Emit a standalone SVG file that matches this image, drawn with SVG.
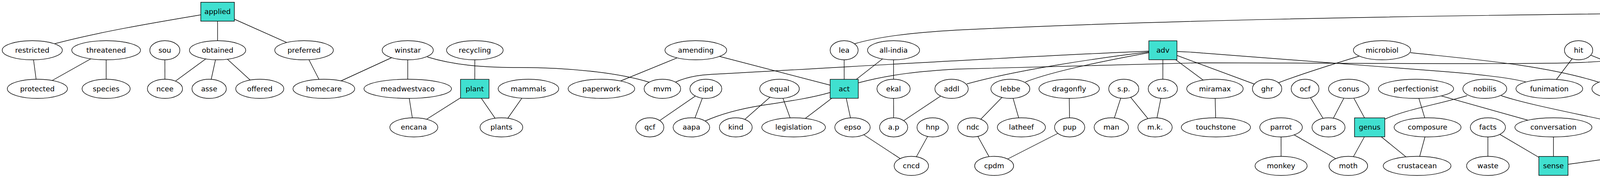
<svg xmlns="http://www.w3.org/2000/svg" width="7376" height="456" viewBox="0 0 7376 456">
<style>
.e line,.e path{stroke:#000;stroke-width:1.4;fill:none}
.n ellipse{fill:#fff;stroke:#000;stroke-width:1.4}
.n rect{fill:#40e0d0;stroke:#000;stroke-width:1.4}
text{font-family:"DejaVu Sans","Liberation Sans",sans-serif;font-size:18.3px;text-anchor:middle;fill:#000}
</style>
<rect x="0" y="0" width="7376" height="456" fill="#fff"/>
<g id="edges" class="e">
<line x1="557" y1="30" x2="557" y2="128.75"/>
<line x1="557" y1="30" x2="778.4" y2="128.75"/>
<line x1="82.6" y1="128.75" x2="95.7" y2="227.5"/>
<line x1="271.7" y1="128.75" x2="95.7" y2="227.5"/>
<line x1="271.7" y1="128.75" x2="271.7" y2="227.5"/>
<line x1="422" y1="128.75" x2="422.3" y2="227.5"/>
<line x1="557" y1="128.75" x2="422.3" y2="227.5"/>
<line x1="557" y1="128.75" x2="535.4" y2="227.5"/>
<line x1="557" y1="128.75" x2="665" y2="227.5"/>
<line x1="778.4" y1="128.75" x2="829" y2="227.5"/>
<line x1="1043.8" y1="128.75" x2="829" y2="227.5"/>
<line x1="1043.8" y1="128.75" x2="1043.8" y2="227.5"/>
<line x1="1215.6" y1="128.75" x2="1215.4" y2="227.5"/>
<line x1="1043.8" y1="227.5" x2="1059.4" y2="326.25"/>
<line x1="1215.4" y1="227.5" x2="1059.4" y2="326.25"/>
<line x1="1215.4" y1="227.5" x2="1283.6" y2="326.25"/>
<line x1="1352.8" y1="227.5" x2="1283.6" y2="326.25"/>
<line x1="1781.3" y1="128.75" x2="1539.6" y2="227.5"/>
<line x1="1781.3" y1="128.75" x2="2161.2" y2="227.5"/>
<line x1="1807" y1="227.5" x2="1663.5" y2="326.25"/>
<line x1="1807" y1="227.5" x2="1770" y2="326.25"/>
<line x1="2161" y1="128.75" x2="2161.2" y2="227.5"/>
<line x1="2287.5" y1="128.75" x2="2161.2" y2="227.5"/>
<line x1="2287.5" y1="128.75" x2="2287.5" y2="227.5"/>
<line x1="1995.6" y1="227.5" x2="1883.6" y2="326.25"/>
<line x1="1995.6" y1="227.5" x2="2031.6" y2="326.25"/>
<line x1="2161.2" y1="227.5" x2="2031.6" y2="326.25"/>
<line x1="2161.2" y1="227.5" x2="2182.4" y2="326.25"/>
<line x1="2287.5" y1="227.5" x2="2287.7" y2="326.25"/>
<line x1="2436" y1="227.5" x2="2287.7" y2="326.25"/>
<line x1="2182.4" y1="326.25" x2="2333" y2="425"/>
<line x1="2387.5" y1="326.25" x2="2333" y2="425"/>
<line x1="2977" y1="128.75" x2="2976.8" y2="227.5"/>
<line x1="2977" y1="128.75" x2="3243.8" y2="227.5"/>
<line x1="2977" y1="128.75" x2="3110.2" y2="227.5"/>
<line x1="2586.5" y1="227.5" x2="2490.5" y2="326.25"/>
<line x1="2586.5" y1="227.5" x2="2614.8" y2="326.25"/>
<line x1="2737" y1="227.5" x2="2738.3" y2="326.25"/>
<line x1="2876.8" y1="227.5" x2="2845" y2="326.25"/>
<line x1="2876.8" y1="227.5" x2="2956.9" y2="326.25"/>
<line x1="2976.8" y1="227.5" x2="2956.9" y2="326.25"/>
<line x1="2490.5" y1="326.25" x2="2545" y2="425"/>
<line x1="2738.3" y1="326.25" x2="2545" y2="425"/>
<line x1="3110.2" y1="227.5" x2="3112.7" y2="326.25"/>
<line x1="3341" y1="227.5" x2="3401" y2="326.25"/>
<line x1="3452.9" y1="227.5" x2="3401" y2="326.25"/>
<line x1="3452.9" y1="227.5" x2="3506.3" y2="326.25"/>
<line x1="3625" y1="227.5" x2="3654.6" y2="326.25"/>
<line x1="3625" y1="227.5" x2="3976.8" y2="326.25"/>
<line x1="3279.5" y1="326.25" x2="3279.6" y2="425"/>
<line x1="3279.5" y1="326.25" x2="3451.7" y2="425"/>
<line x1="3506.3" y1="326.25" x2="3451.7" y2="425"/>
<line x1="3506.3" y1="326.25" x2="3627.8" y2="425"/>
<line x1="3654.6" y1="326.25" x2="3627.8" y2="425"/>
<line x1="4041.2" y1="128.75" x2="3966.3" y2="227.5"/>
<line x1="4041.2" y1="128.75" x2="4286.4" y2="227.5"/>
<line x1="4286.4" y1="227.5" x2="4174.2" y2="326.25"/>
<line x1="3809" y1="326.25" x2="3809" y2="425"/>
<line x1="3809" y1="326.25" x2="3976.8" y2="425"/>
<line x1="3976.8" y1="326.25" x2="3976.8" y2="425"/>
<line x1="4590.5" y1="30" x2="4590.2" y2="128.75"/>
<line x1="4590.5" y1="30" x2="4703.7" y2="128.75"/>
<line x1="4703.7" y1="30" x2="4703.7" y2="128.75"/>
<line x1="4703.7" y1="30" x2="4815.7" y2="128.75"/>
<line x1="4815.5" y1="30" x2="4815.7" y2="128.75"/>
<line x1="4911.6" y1="30" x2="4815.7" y2="128.75"/>
<line x1="5027.8" y1="30" x2="4815.7" y2="128.75"/>
<line x1="4929.5" y1="128.75" x2="4716.7" y2="227.5"/>
<line x1="4815.7" y1="128.75" x2="4815.7" y2="227.5"/>
<line x1="4425" y1="227.5" x2="4358" y2="326.25"/>
<line x1="4425" y1="227.5" x2="4551.7" y2="326.25"/>
<line x1="4582.3" y1="227.5" x2="4716.9" y2="326.25"/>
<line x1="4815.7" y1="227.5" x2="4716.9" y2="326.25"/>
<line x1="4815.7" y1="227.5" x2="4834.3" y2="326.25"/>
<line x1="4551.7" y1="326.25" x2="4551.7" y2="425"/>
<line x1="5027.8" y1="30" x2="5044.8" y2="128.75"/>
<line x1="5358.2" y1="30" x2="5586.4" y2="128.75"/>
<line x1="5262.2" y1="128.75" x2="5262.1" y2="227.5"/>
<line x1="5478.9" y1="128.75" x2="5586.4" y2="227.5"/>
<line x1="4947.7" y1="227.5" x2="4946.3" y2="326.25"/>
<line x1="4947.7" y1="227.5" x2="5066" y2="326.25"/>
<line x1="4947.7" y1="227.5" x2="5199.9" y2="326.25"/>
<line x1="5118.5" y1="227.5" x2="5323.8" y2="326.25"/>
<line x1="5367.5" y1="227.5" x2="5199.9" y2="326.25"/>
<line x1="5476.7" y1="227.5" x2="5323.8" y2="326.25"/>
<line x1="5476.7" y1="227.5" x2="5477" y2="326.25"/>
<line x1="4946.3" y1="326.25" x2="4946.8" y2="425"/>
<line x1="5066" y1="326.25" x2="5066.2" y2="425"/>
<line x1="5573.2" y1="30" x2="5686.4" y2="128.75"/>
<line x1="5586.4" y1="128.75" x2="5586.4" y2="227.5"/>
<line x1="5686.4" y1="128.75" x2="5690.4" y2="227.5"/>
<line x1="5796.9" y1="227.5" x2="5762.5" y2="326.25"/>
<line x1="6055.6" y1="227.5" x2="5762.5" y2="326.25"/>
<line x1="6055.6" y1="227.5" x2="5910.3" y2="326.25"/>
<line x1="6055.6" y1="227.5" x2="6185" y2="326.25"/>
<line x1="5906.6" y1="227.5" x2="6061.1" y2="326.25"/>
<line x1="5762.5" y1="326.25" x2="5651.7" y2="425"/>
<line x1="5762.5" y1="326.25" x2="5763.5" y2="425"/>
<line x1="5910.3" y1="326.25" x2="5910.3" y2="425"/>
<line x1="6061.1" y1="326.25" x2="6157" y2="425"/>
<line x1="6235.8" y1="227.5" x2="6185" y2="326.25"/>
<line x1="6391.9" y1="227.5" x2="6551.6" y2="326.25"/>
<line x1="6391.9" y1="227.5" x2="6378.3" y2="326.25"/>
<line x1="6551.5" y1="227.5" x2="6551.6" y2="326.25"/>
<line x1="6690.3" y1="227.5" x2="6551.6" y2="326.25"/>
<line x1="6690.3" y1="227.5" x2="6662.3" y2="326.25"/>
<line x1="6690.3" y1="227.5" x2="6770.2" y2="326.25"/>
<line x1="6378.3" y1="326.25" x2="6378.5" y2="425"/>
<line x1="7137" y1="128.75" x2="7113.3" y2="227.5"/>
<line x1="7137" y1="128.75" x2="7213.1" y2="227.5"/>
<line x1="7299.6" y1="128.75" x2="7213.1" y2="227.5"/>
<line x1="7299.6" y1="128.75" x2="7323.8" y2="227.5"/>
<line x1="6919.8" y1="227.5" x2="6883.7" y2="326.25"/>
<line x1="6919.8" y1="227.5" x2="7022.4" y2="326.25"/>
<line x1="7113.3" y1="227.5" x2="7149" y2="326.25"/>
<path d="M514,38 C420,54 260,80 140,112"/>
<path d="M1094,146 C1160,166 1230,173 1330,173 C1450,173 1580,185 1663,211"/>
<path d="M1730,210 C1765,194 1800,191 1850,189 C2200,170 2600,145 2941,131"/>
<path d="M2188,112 C2250,94 2330,84 2450,77 C2900,55 3500,40 4553,31"/>
<path d="M2198,212 C2280,190 2360,182 2450,177 L3065,161 C3400,161 3900,166 4050,160 C4150,155 4210,146 4260,140"/>
<path d="M2941,133 C2800,150 2600,180 2475,215"/>
<path d="M2941,135 C2860,150 2700,180 2625,210"/>
<path d="M3013,132 Q3050,133 3080,136 L3680,182 Q3850,195 3906,210"/>
<path d="M3479,144 C3420,162 3330,190 3273,212"/>
<path d="M3611,135 C3750,150 3950,165 4094,211"/>
<path d="M3546,305 C3600,280 3680,268 3756,245"/>
<path d="M3843,245 C3900,265 4030,290 4120,310"/>
<path d="M4014,421 C4150,402 4350,375 4490,344"/>
<path d="M4426,142 C4500,160 4620,180 4689,211"/>
<path d="M4630,146 C4700,168 4780,180 4905,184 C4980,188 5030,198 5063,211"/>
<path d="M5118,146 C5080,165 5040,176 4970,183 C4920,188 4870,196 4845,211"/>
<path d="M4968,146 C5040,170 5180,185 5229,211"/>
<path d="M5537,31 C5420,50 5250,80 5174,115"/>
<path d="M5318,40 C5230,62 5130,85 5075,113"/>
<path d="M4997,245 C5080,270 5200,290 5288,313"/>
<path d="M5397,245 C5440,262 5480,275 5525,285 L5726,322"/>
<path d="M5360,315 C5420,298 5480,290 5560,288 C5700,285 5800,275 5874,246"/>
<path d="M6321,131 C6200,140 6000,160 5828,211"/>
<path d="M6293,245 C6350,262 6450,282 6510,305"/>
<path d="M6403,131 L6755,152 C6900,160 7050,175 7183,211"/>
<path d="M6845,344 C6800,360 6700,380 6600,385 C6450,390 6300,395 6193,417"/>
<path d="M1805,310 C1850,290 1900,278 1950,270 C2030,258 2080,250 2125,237"/>
</g>
<g id="n-applied" class="n"><rect x="514" y="5.75" width="86" height="48.5"/><text x="557" y="36">applied</text></g>
<g id="n-vec" class="n"><ellipse cx="4590.5" cy="30" rx="37.6" ry="24.5"/><text x="4590.5" y="36">vec</text></g>
<g id="n-mmm" class="n"><ellipse cx="4703.7" cy="30" rx="52" ry="24.5"/><text x="4703.7" y="36">mmm</text></g>
<g id="n-rcp" class="n"><ellipse cx="4815.5" cy="30" rx="35.8" ry="24.5"/><text x="4815.5" y="36">rcp</text></g>
<g id="n-slp" class="n"><ellipse cx="4911.6" cy="30" rx="36.2" ry="24.5"/><text x="4911.6" y="36">slp</text></g>
<g id="n-kpo" class="n"><ellipse cx="5027.8" cy="30" rx="38.5" ry="24.5"/><text x="5027.8" y="36">kpo</text></g>
<g id="n-bwp" class="n"><ellipse cx="5358.2" cy="30" rx="42" ry="24.5"/><text x="5358.2" y="36">bwp</text></g>
<g id="n-rfb" class="n"><ellipse cx="5573.2" cy="30" rx="36.2" ry="24.5"/><text x="5573.2" y="36">rfb</text></g>
<g id="n-restricted" class="n"><ellipse cx="82.6" cy="128.75" rx="77" ry="24.5"/><text x="82.6" y="134.75">restricted</text></g>
<g id="n-threatened" class="n"><ellipse cx="271.7" cy="128.75" rx="88" ry="24.5"/><text x="271.7" y="134.75">threatened</text></g>
<g id="n-sou" class="n"><ellipse cx="422" cy="128.75" rx="38.5" ry="24.5"/><text x="422" y="134.75">sou</text></g>
<g id="n-obtained" class="n"><ellipse cx="557" cy="128.75" rx="72" ry="24.5"/><text x="557" y="134.75">obtained</text></g>
<g id="n-preferred" class="n"><ellipse cx="778.4" cy="128.75" rx="75" ry="24.5"/><text x="778.4" y="134.75">preferred</text></g>
<g id="n-winstar" class="n"><ellipse cx="1043.8" cy="128.75" rx="65.4" ry="24.5"/><text x="1043.8" y="134.75">winstar</text></g>
<g id="n-recycling" class="n"><ellipse cx="1215.6" cy="128.75" rx="72.4" ry="24.5"/><text x="1215.6" y="134.75">recycling</text></g>
<g id="n-amending" class="n"><ellipse cx="1781.3" cy="128.75" rx="79" ry="24.5"/><text x="1781.3" y="134.75">amending</text></g>
<g id="n-lea" class="n"><ellipse cx="2161" cy="128.75" rx="35.8" ry="24.5"/><text x="2161" y="134.75">lea</text></g>
<g id="n-all-india" class="n"><ellipse cx="2287.5" cy="128.75" rx="66.6" ry="24.5"/><text x="2287.5" y="134.75">all-india</text></g>
<g id="n-adv" class="n"><rect x="2941" y="104.5" width="72" height="48.5"/><text x="2977" y="134.75">adv</text></g>
<g id="n-microbiol" class="n"><ellipse cx="3538" cy="128.75" rx="73.3" ry="24.5"/><text x="3538" y="134.75">microbiol</text></g>
<g id="n-hit" class="n"><ellipse cx="4041.2" cy="128.75" rx="36.2" ry="24.5"/><text x="4041.2" y="134.75">hit</text></g>
<g id="n-amendment" class="n"><ellipse cx="4345.4" cy="128.75" rx="93.2" ry="24.5"/><text x="4345.4" y="134.75">amendment</text></g>
<g id="n-string" class="n"><ellipse cx="4590.2" cy="128.75" rx="51.6" ry="24.5"/><text x="4590.2" y="134.75">string</text></g>
<g id="n-sjp" class="n"><ellipse cx="4703.7" cy="128.75" rx="35.8" ry="24.5"/><text x="4703.7" y="134.75">sjp</text></g>
<g id="n-ppr" class="n"><rect x="4779.7" y="104.5" width="72" height="48.5"/><text x="4815.7" y="134.75">ppr</text></g>
<g id="n-every" class="n"><ellipse cx="4929.5" cy="128.75" rx="51.8" ry="24.5"/><text x="4929.5" y="134.75">every</text></g>
<g id="n-uds" class="n"><ellipse cx="5044.8" cy="128.75" rx="38.5" ry="24.5"/><text x="5044.8" y="134.75">uds</text></g>
<g id="n-usr" class="n"><ellipse cx="5145.2" cy="128.75" rx="35.8" ry="24.5"/><text x="5145.2" y="134.75">usr</text></g>
<g id="n-orchid" class="n"><ellipse cx="5262.2" cy="128.75" rx="54.3" ry="24.5"/><text x="5262.2" y="134.75">orchid</text></g>
<g id="n-richy" class="n"><ellipse cx="5478.9" cy="128.75" rx="45.8" ry="24.5"/><text x="5478.9" y="134.75">richy</text></g>
<g id="n-bei" class="n"><ellipse cx="5586.4" cy="128.75" rx="36" ry="24.5"/><text x="5586.4" y="134.75">bei</text></g>
<g id="n-vie" class="n"><ellipse cx="5686.4" cy="128.75" rx="36" ry="24.5"/><text x="5686.4" y="134.75">vie</text></g>
<g id="n-ams" class="n"><ellipse cx="6362.3" cy="128.75" rx="41.1" ry="24.5"/><text x="6362.3" y="134.75">ams</text></g>
<g id="n-pbi" class="n"><ellipse cx="7137" cy="128.75" rx="36" ry="24.5"/><text x="7137" y="134.75">pbi</text></g>
<g id="n-triumf" class="n"><ellipse cx="7299.6" cy="128.75" rx="54.4" ry="24.5"/><text x="7299.6" y="134.75">triumf</text></g>
<g id="n-protected" class="n"><ellipse cx="95.7" cy="227.5" rx="77" ry="24.5"/><text x="95.7" y="233.5">protected</text></g>
<g id="n-species" class="n"><ellipse cx="271.7" cy="227.5" rx="61.5" ry="24.5"/><text x="271.7" y="233.5">species</text></g>
<g id="n-ncee" class="n"><ellipse cx="422.3" cy="227.5" rx="45" ry="24.5"/><text x="422.3" y="233.5">ncee</text></g>
<g id="n-asse" class="n"><ellipse cx="535.4" cy="227.5" rx="44" ry="24.5"/><text x="535.4" y="233.5">asse</text></g>
<g id="n-offered" class="n"><ellipse cx="665" cy="227.5" rx="61.5" ry="24.5"/><text x="665" y="233.5">offered</text></g>
<g id="n-homecare" class="n"><ellipse cx="829" cy="227.5" rx="79" ry="24.5"/><text x="829" y="233.5">homecare</text></g>
<g id="n-meadwestvaco" class="n"><ellipse cx="1043.8" cy="227.5" rx="112" ry="24.5"/><text x="1043.8" y="233.5">meadwestvaco</text></g>
<g id="n-plant" class="n"><rect x="1178.9" y="203.25" width="73" height="48.5"/><text x="1215.4" y="233.5">plant</text></g>
<g id="n-mammals" class="n"><ellipse cx="1352.8" cy="227.5" rx="77.5" ry="24.5"/><text x="1352.8" y="233.5">mammals</text></g>
<g id="n-paperwork" class="n"><ellipse cx="1539.6" cy="227.5" rx="85.2" ry="24.5"/><text x="1539.6" y="233.5">paperwork</text></g>
<g id="n-mvm" class="n"><ellipse cx="1695.7" cy="227.5" rx="46.8" ry="24.5"/><text x="1695.7" y="233.5">mvm</text></g>
<g id="n-cipd" class="n"><ellipse cx="1807" cy="227.5" rx="40.8" ry="24.5"/><text x="1807" y="233.5">cipd</text></g>
<g id="n-equal" class="n"><ellipse cx="1995.6" cy="227.5" rx="50.6" ry="24.5"/><text x="1995.6" y="233.5">equal</text></g>
<g id="n-act" class="n"><rect x="2125.2" y="203.25" width="72" height="48.5"/><text x="2161.2" y="233.5">act</text></g>
<g id="n-ekal" class="n"><ellipse cx="2287.5" cy="227.5" rx="42.5" ry="24.5"/><text x="2287.5" y="233.5">ekal</text></g>
<g id="n-addl" class="n"><ellipse cx="2436" cy="227.5" rx="42.7" ry="24.5"/><text x="2436" y="233.5">addl</text></g>
<g id="n-lebbe" class="n"><ellipse cx="2586.5" cy="227.5" rx="49.8" ry="24.5"/><text x="2586.5" y="233.5">lebbe</text></g>
<g id="n-dragonfly" class="n"><ellipse cx="2737" cy="227.5" rx="77.3" ry="24.5"/><text x="2737" y="233.5">dragonfly</text></g>
<g id="n-s-p" class="n"><ellipse cx="2876.8" cy="227.5" rx="38.5" ry="24.5"/><text x="2876.8" y="233.5">s.p.</text></g>
<g id="n-v-s" class="n"><ellipse cx="2976.8" cy="227.5" rx="37.4" ry="24.5"/><text x="2976.8" y="233.5">v.s.</text></g>
<g id="n-miramax" class="n"><ellipse cx="3110.2" cy="227.5" rx="72.3" ry="24.5"/><text x="3110.2" y="233.5">miramax</text></g>
<g id="n-ghr" class="n"><ellipse cx="3243.8" cy="227.5" rx="37.6" ry="24.5"/><text x="3243.8" y="233.5">ghr</text></g>
<g id="n-ocf" class="n"><ellipse cx="3341" cy="227.5" rx="35.6" ry="24.5"/><text x="3341" y="233.5">ocf</text></g>
<g id="n-conus" class="n"><ellipse cx="3452.9" cy="227.5" rx="51.8" ry="24.5"/><text x="3452.9" y="233.5">conus</text></g>
<g id="n-perfectionist" class="n"><ellipse cx="3625" cy="227.5" rx="96.2" ry="24.5"/><text x="3625" y="233.5">perfectionist</text></g>
<g id="n-nobilis" class="n"><ellipse cx="3801.1" cy="227.5" rx="56.1" ry="24.5"/><text x="3801.1" y="233.5">nobilis</text></g>
<g id="n-funimation" class="n"><ellipse cx="3966.3" cy="227.5" rx="85.4" ry="24.5"/><text x="3966.3" y="233.5">funimation</text></g>
<g id="n-environ" class="n"><ellipse cx="4140.6" cy="227.5" rx="65.2" ry="24.5"/><text x="4140.6" y="233.5">environ</text></g>
<g id="n-smash" class="n"><ellipse cx="4286.4" cy="227.5" rx="56.1" ry="24.5"/><text x="4286.4" y="233.5">smash</text></g>
<g id="n-theory" class="n"><ellipse cx="4425" cy="227.5" rx="58.7" ry="24.5"/><text x="4425" y="233.5">theory</text></g>
<g id="n-mixtapes" class="n"><ellipse cx="4582.3" cy="227.5" rx="74.5" ry="24.5"/><text x="4582.3" y="233.5">mixtapes</text></g>
<g id="n-bill" class="n"><ellipse cx="4716.7" cy="227.5" rx="35.8" ry="24.5"/><text x="4716.7" y="233.5">bill</text></g>
<g id="n-udb" class="n"><ellipse cx="4815.7" cy="227.5" rx="38.7" ry="24.5"/><text x="4815.7" y="233.5">udb</text></g>
<g id="n-systemd" class="n"><ellipse cx="4947.7" cy="227.5" rx="69.6" ry="24.5"/><text x="4947.7" y="233.5">systemd</text></g>
<g id="n-trombone" class="n"><ellipse cx="5118.5" cy="227.5" rx="77" ry="24.5"/><text x="5118.5" y="233.5">trombone</text></g>
<g id="n-tree" class="n"><ellipse cx="5262.1" cy="227.5" rx="42.5" ry="24.5"/><text x="5262.1" y="233.5">tree</text></g>
<g id="n-odp" class="n"><ellipse cx="5367.5" cy="227.5" rx="38.7" ry="24.5"/><text x="5367.5" y="233.5">odp</text></g>
<g id="n-yaml" class="n"><ellipse cx="5476.7" cy="227.5" rx="46.4" ry="24.5"/><text x="5476.7" y="233.5">yaml</text></g>
<g id="n-dop" class="n"><ellipse cx="5586.4" cy="227.5" rx="38.7" ry="24.5"/><text x="5586.4" y="233.5">dop</text></g>
<g id="n-sort" class="n"><ellipse cx="5690.4" cy="227.5" rx="41.5" ry="24.5"/><text x="5690.4" y="233.5">sort</text></g>
<g id="n-qms" class="n"><ellipse cx="5796.9" cy="227.5" rx="41.3" ry="24.5"/><text x="5796.9" y="233.5">qms</text></g>
<g id="n-bass" class="n"><ellipse cx="5906.6" cy="227.5" rx="44.3" ry="24.5"/><text x="5906.6" y="233.5">bass</text></g>
<g id="n-narcissism" class="n"><ellipse cx="6055.6" cy="227.5" rx="81.4" ry="24.5"/><text x="6055.6" y="233.5">narcissism</text></g>
<g id="n-disregard" class="n"><ellipse cx="6235.8" cy="227.5" rx="75.1" ry="24.5"/><text x="6235.8" y="233.5">disregard</text></g>
<g id="n-doings" class="n"><ellipse cx="6391.9" cy="227.5" rx="57.3" ry="24.5"/><text x="6391.9" y="233.5">doings</text></g>
<g id="n-garnishee" class="n"><ellipse cx="6551.5" cy="227.5" rx="78.5" ry="24.5"/><text x="6551.5" y="233.5">garnishee</text></g>
<g id="n-job" class="n"><ellipse cx="6690.3" cy="227.5" rx="36" ry="24.5"/><text x="6690.3" y="233.5">job</text></g>
<g id="n-energy" class="n"><ellipse cx="6919.8" cy="227.5" rx="61.5" ry="24.5"/><text x="6919.8" y="233.5">energy</text></g>
<g id="n-vtc" class="n"><ellipse cx="7113.3" cy="227.5" rx="36" ry="24.5"/><text x="7113.3" y="233.5">vtc</text></g>
<g id="n-epri" class="n"><ellipse cx="7213.1" cy="227.5" rx="40.1" ry="24.5"/><text x="7213.1" y="233.5">epri</text></g>
<g id="n-amrc" class="n"><ellipse cx="7323.8" cy="227.5" rx="46.8" ry="24.5"/><text x="7323.8" y="233.5">amrc</text></g>
<g id="n-encana" class="n"><ellipse cx="1059.4" cy="326.25" rx="61.3" ry="24.5"/><text x="1059.4" y="332.25">encana</text></g>
<g id="n-plants" class="n"><ellipse cx="1283.6" cy="326.25" rx="54.6" ry="24.5"/><text x="1283.6" y="332.25">plants</text></g>
<g id="n-qcf" class="n"><ellipse cx="1663.5" cy="326.25" rx="36" ry="24.5"/><text x="1663.5" y="332.25">qcf</text></g>
<g id="n-aapa" class="n"><ellipse cx="1770" cy="326.25" rx="46.8" ry="24.5"/><text x="1770" y="332.25">aapa</text></g>
<g id="n-kind" class="n"><ellipse cx="1883.6" cy="326.25" rx="42" ry="24.5"/><text x="1883.6" y="332.25">kind</text></g>
<g id="n-legislation" class="n"><ellipse cx="2031.6" cy="326.25" rx="81.4" ry="24.5"/><text x="2031.6" y="332.25">legislation</text></g>
<g id="n-epso" class="n"><ellipse cx="2182.4" cy="326.25" rx="45.3" ry="24.5"/><text x="2182.4" y="332.25">epso</text></g>
<g id="n-a-p" class="n"><ellipse cx="2287.7" cy="326.25" rx="36" ry="24.5"/><text x="2287.7" y="332.25">a.p</text></g>
<g id="n-hnp" class="n"><ellipse cx="2387.5" cy="326.25" rx="40" ry="24.5"/><text x="2387.5" y="332.25">hnp</text></g>
<g id="n-ndc" class="n"><ellipse cx="2490.5" cy="326.25" rx="38.7" ry="24.5"/><text x="2490.5" y="332.25">ndc</text></g>
<g id="n-latheef" class="n"><ellipse cx="2614.8" cy="326.25" rx="61.5" ry="24.5"/><text x="2614.8" y="332.25">latheef</text></g>
<g id="n-pup" class="n"><ellipse cx="2738.3" cy="326.25" rx="38.7" ry="24.5"/><text x="2738.3" y="332.25">pup</text></g>
<g id="n-man" class="n"><ellipse cx="2845" cy="326.25" rx="44" ry="24.5"/><text x="2845" y="332.25">man</text></g>
<g id="n-m-k" class="n"><ellipse cx="2956.9" cy="326.25" rx="43.9" ry="24.5"/><text x="2956.9" y="332.25">m.k.</text></g>
<g id="n-touchstone" class="n"><ellipse cx="3112.7" cy="326.25" rx="88.5" ry="24.5"/><text x="3112.7" y="332.25">touchstone</text></g>
<g id="n-parrot" class="n"><ellipse cx="3279.5" cy="326.25" rx="54.4" ry="24.5"/><text x="3279.5" y="332.25">parrot</text></g>
<g id="n-pars" class="n"><ellipse cx="3401" cy="326.25" rx="42.3" ry="24.5"/><text x="3401" y="332.25">pars</text></g>
<g id="n-genus" class="n"><rect x="3467.55" y="302" width="77.5" height="48.5"/><text x="3506.3" y="332.25">genus</text></g>
<g id="n-composure" class="n"><ellipse cx="3654.6" cy="326.25" rx="85.6" ry="24.5"/><text x="3654.6" y="332.25">composure</text></g>
<g id="n-facts" class="n"><ellipse cx="3809" cy="326.25" rx="45" ry="24.5"/><text x="3809" y="332.25">facts</text></g>
<g id="n-conversation" class="n"><ellipse cx="3976.8" cy="326.25" rx="98.6" ry="24.5"/><text x="3976.8" y="332.25">conversation</text></g>
<g id="n-riderman" class="n"><ellipse cx="4174.2" cy="326.25" rx="74.7" ry="24.5"/><text x="4174.2" y="332.25">riderman</text></g>
<g id="n-theoretical" class="n"><ellipse cx="4358" cy="326.25" rx="85.4" ry="24.5"/><text x="4358" y="332.25">theoretical</text></g>
<g id="n-perception" class="n"><ellipse cx="4551.7" cy="326.25" rx="83.8" ry="24.5"/><text x="4551.7" y="332.25">perception</text></g>
<g id="n-demos" class="n"><ellipse cx="4716.9" cy="326.25" rx="57.3" ry="24.5"/><text x="4716.9" y="332.25">demos</text></g>
<g id="n-sp" class="n"><ellipse cx="4834.3" cy="326.25" rx="36" ry="24.5"/><text x="4834.3" y="332.25">sp</text></g>
<g id="n-winrt" class="n"><ellipse cx="4946.3" cy="326.25" rx="50.8" ry="24.5"/><text x="4946.3" y="332.25">winrt</text></g>
<g id="n-dbas" class="n"><ellipse cx="5066" cy="326.25" rx="45.3" ry="24.5"/><text x="5066" y="332.25">dbas</text></g>
<g id="n-uis" class="n"><ellipse cx="5199.9" cy="326.25" rx="36" ry="24.5"/><text x="5199.9" y="332.25">uis</text></g>
<g id="n-sax" class="n"><rect x="5287.65" y="302" width="72.3" height="48.5"/><text x="5323.8" y="332.25">sax</text></g>
<g id="n-owl" class="n"><ellipse cx="5477" cy="326.25" rx="38.3" ry="24.5"/><text x="5477" y="332.25">owl</text></g>
<g id="n-dis" class="n"><rect x="5726.35" y="302" width="72.3" height="48.5"/><text x="5762.5" y="332.25">dis</text></g>
<g id="n-paradoxical" class="n"><ellipse cx="5910.3" cy="326.25" rx="88" ry="24.5"/><text x="5910.3" y="332.25">paradoxical</text></g>
<g id="n-eye" class="n"><ellipse cx="6061.1" cy="326.25" rx="38.7" ry="24.5"/><text x="6061.1" y="332.25">eye</text></g>
<g id="n-disgust" class="n"><ellipse cx="6185" cy="326.25" rx="61.5" ry="24.5"/><text x="6185" y="332.25">disgust</text></g>
<g id="n-extraordinaire" class="n"><ellipse cx="6378.3" cy="326.25" rx="108.1" ry="24.5"/><text x="6378.3" y="332.25">extraordinaire</text></g>
<g id="n-person" class="n"><rect x="6510.1" y="302" width="83" height="48.5"/><text x="6551.6" y="332.25">person</text></g>
<g id="n-offer" class="n"><ellipse cx="6662.3" cy="326.25" rx="45" ry="24.5"/><text x="6662.3" y="332.25">offer</text></g>
<g id="n-o-o" class="n"><ellipse cx="6770.2" cy="326.25" rx="39.2" ry="24.5"/><text x="6770.2" y="332.25">o.o.</text></g>
<g id="n-guide" class="n"><ellipse cx="6883.7" cy="326.25" rx="50.6" ry="24.5"/><text x="6883.7" y="332.25">guide</text></g>
<g id="n-nuclear" class="n"><ellipse cx="7022.4" cy="326.25" rx="64" ry="24.5"/><text x="7022.4" y="332.25">nuclear</text></g>
<g id="n-ans" class="n"><ellipse cx="7149" cy="326.25" rx="38.5" ry="24.5"/><text x="7149" y="332.25">ans</text></g>
<g id="n-cncd" class="n"><ellipse cx="2333" cy="425" rx="44" ry="24.5"/><text x="2333" y="431">cncd</text></g>
<g id="n-cpdm" class="n"><ellipse cx="2545" cy="425" rx="49.8" ry="24.5"/><text x="2545" y="431">cpdm</text></g>
<g id="n-monkey" class="n"><ellipse cx="3279.6" cy="425" rx="66.6" ry="24.5"/><text x="3279.6" y="431">monkey</text></g>
<g id="n-moth" class="n"><ellipse cx="3451.7" cy="425" rx="49.4" ry="24.5"/><text x="3451.7" y="431">moth</text></g>
<g id="n-crustacean" class="n"><ellipse cx="3627.8" cy="425" rx="86.7" ry="24.5"/><text x="3627.8" y="431">crustacean</text></g>
<g id="n-waste" class="n"><ellipse cx="3809" cy="425" rx="54.5" ry="24.5"/><text x="3809" y="431">waste</text></g>
<g id="n-sense" class="n"><rect x="3939.45" y="400.75" width="74.7" height="48.5"/><text x="3976.8" y="431">sense</text></g>
<g id="n-metaphor" class="n"><ellipse cx="4551.7" cy="425" rx="77" ry="24.5"/><text x="4551.7" y="431">metaphor</text></g>
<g id="n-isam" class="n"><ellipse cx="4946.8" cy="425" rx="45" ry="24.5"/><text x="4946.8" y="431">isam</text></g>
<g id="n-isas" class="n"><ellipse cx="5066.2" cy="425" rx="38.3" ry="24.5"/><text x="5066.2" y="431">isas</text></g>
<g id="n-rap" class="n"><ellipse cx="5651.7" cy="425" rx="36" ry="24.5"/><text x="5651.7" y="431">rap</text></g>
<g id="n-infect" class="n"><ellipse cx="5763.5" cy="425" rx="51.8" ry="24.5"/><text x="5763.5" y="431">infect</text></g>
<g id="n-emotion" class="n"><ellipse cx="5910.3" cy="425" rx="67.8" ry="24.5"/><text x="5910.3" y="431">emotion</text></g>
<g id="n-life" class="n"><ellipse cx="6157" cy="425" rx="36.2" ry="24.5"/><text x="6157" y="431">life</text></g>
<g id="n-willette" class="n"><ellipse cx="6378.5" cy="425" rx="65.2" ry="24.5"/><text x="6378.5" y="431">willette</text></g>
</svg>
